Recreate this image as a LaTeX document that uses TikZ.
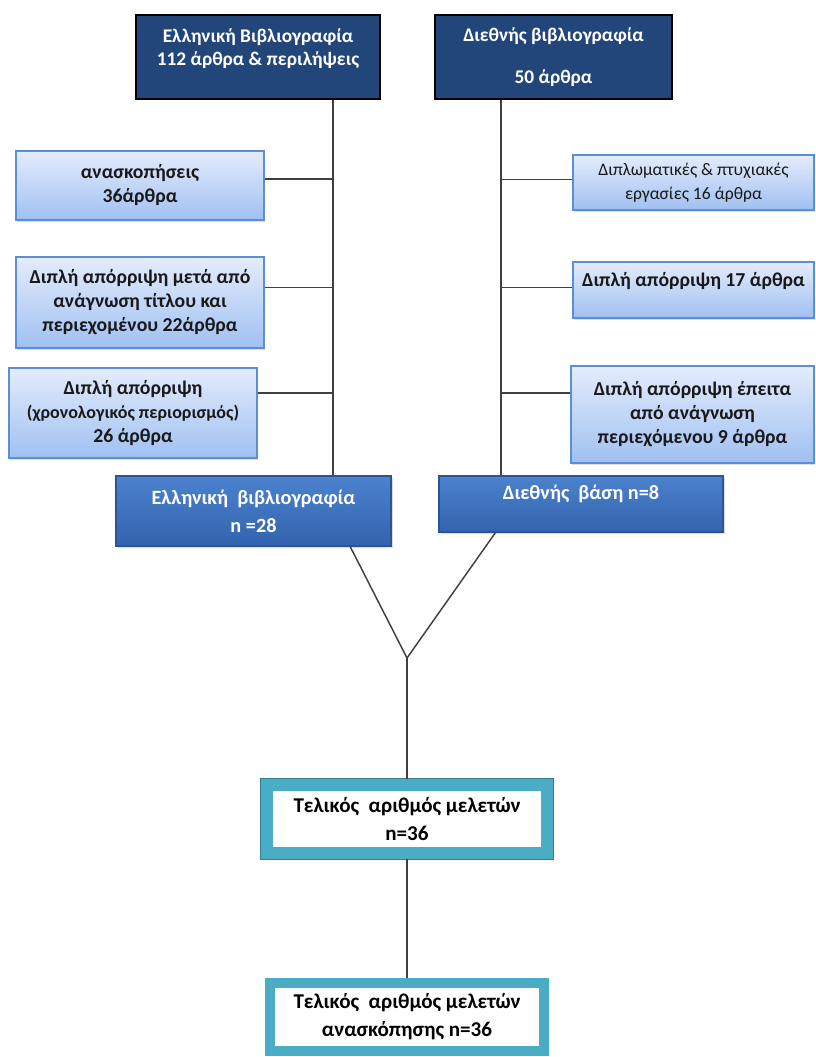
\documentclass[tikz,border=0pt]{standalone}
\usepackage{fontspec}
\setmainfont{Carlito}
\usetikzlibrary{calc,shadows}
\definecolor{navy}{HTML}{22467A}
\definecolor{paletop}{HTML}{E4ECFC}
\definecolor{palebot}{HTML}{A0C0F2}
\definecolor{paleedge}{HTML}{5C8ED6}
\definecolor{midtop}{HTML}{4C82CE}
\definecolor{midbot}{HTML}{3363AD}
\definecolor{midedge}{HTML}{2B5596}
\definecolor{tealbox}{HTML}{4BACC6}
\definecolor{tealdark}{HTML}{2F7F95}
\tikzset{x=0.75pt,y=-0.75pt,
head/.style={draw=black,line width=2pt,fill=navy,text=white,align=center,minimum width=183pt,minimum height=63pt,inner sep=0pt,font=\bfseries\fontsize{14.5}{17.5}\selectfont},
sub/.style={draw=paleedge,line width=1.1pt,top color=paletop,bottom color=palebot,align=center,minimum width=186pt,inner sep=0pt,text=black!90,font=\bfseries\fontsize{14.8}{18}\selectfont,drop shadow={opacity=.25,shadow xshift=1pt,shadow yshift=-1.5pt}},
mid/.style={draw=midedge,line width=1pt,top color=midtop,bottom color=midbot,text=white,align=center,inner sep=0pt,font=\bfseries\fontsize{15.2}{21}\selectfont,drop shadow={opacity=.3,shadow xshift=1.5pt,shadow yshift=-1.5pt}},
final/.style={draw=tealbox,line width=7.5pt,fill=white,align=center,minimum width=205pt,minimum height=51pt,inner sep=0pt,font=\bfseries\fontsize{15.8}{21}\selectfont},
link/.style={draw=black!75,line width=1.1pt}}
\begin{document}
\begin{tikzpicture}
\useasboundingbox (0,0) rectangle (815,1057);
\node[head,text depth=15pt] (gr) at (258,57) {Ελληνική Βιβλιογραφία\\112 άρθρα \& περιλήψεις};
\node[head,minimum width=177.75pt] (in) at (553.5,57) {Διεθνής βιβλιογραφία\\[14pt]50 άρθρα};
\node[sub,minimum height=51.75pt] (l1) at (140,185.5) {ανασκοπήσεις\\36άρθρα};
\node[sub,minimum height=68.25pt] (l2) at (140,302.5) {Διπλή απόρριψη μετά από\\ανάγνωση τίτλου και\\περιεχομένου 22άρθρα};
\node[sub,minimum height=67.5pt] (l3) at (133,413) {Διπλή απόρριψη\\{\fontsize{13.5}{18}\selectfont(χρονολογικός περιορισμός)}\\26 άρθρα};
\node[sub,minimum width=180.75pt,minimum height=41.25pt,font=\fontsize{13.2}{18}\selectfont] (r1) at (693.5,182.5) {Διπλωματικές \& πτυχιακές\\εργασίες 16 άρθρα};
\node[sub,minimum width=180.75pt,minimum height=42pt,text depth=16pt] (r2) at (693.5,290) {Διπλή απόρριψη 17 άρθρα};
\node[sub,minimum width=182.25pt,minimum height=72.75pt] (r3) at (692.5,414.5) {Διπλή απόρριψη έπειτα\\από ανάγνωση\\περιεχόμενου 9 άρθρα};
\node[mid,minimum width=206.25pt,minimum height=52.5pt] (eb) at (253.5,511) {Ελληνική\ \ βιβλιογραφία\\n =28};
\node[mid,minimum width=213pt,minimum height=42pt,text depth=17pt] (db) at (581,504) {Διεθνής\ \ βάση n=8};
\node[final,line width=8.5pt,minimum width=210pt,preaction={draw=tealdark,line width=11pt}] (t1) at (407,819) {Τελικός\ \ αριθμός μελετών\\n=36};
\node[final] (t2) at (407,1017) {Τελικός\ \ αριθμός μελετών\\ανασκόπησης n=36};
\coordinate (lt) at (333,0);
\coordinate (rt) at (501,0);
\coordinate (j) at (407,658);
\draw[link] (gr.south -| lt) -- (eb.north -| lt);
\draw[link] (in.south -| rt) -- (db.north -| rt);
\foreach \n/\f in {l1/.41,l2/.34,l3/.28}{\draw[link] ($(\n.north east)!\f!(\n.south east)$) coordinate (p) -- (p -| lt);}
\foreach \n/\f in {r1/.45,r2/.46,r3/.28}{\draw[link] ($(\n.north west)!\f!(\n.south west)$) coordinate (p) -- (p -| rt);}
\draw[link] ($(eb.south west)!.85!(eb.south east)$) -- (j) -- ($(db.south west)!.2!(db.south east)$);
\draw[link] (j) -- (t1.north);
\draw[link] (t1.south) -- (t2.north);
\end{tikzpicture}
\end{document}
